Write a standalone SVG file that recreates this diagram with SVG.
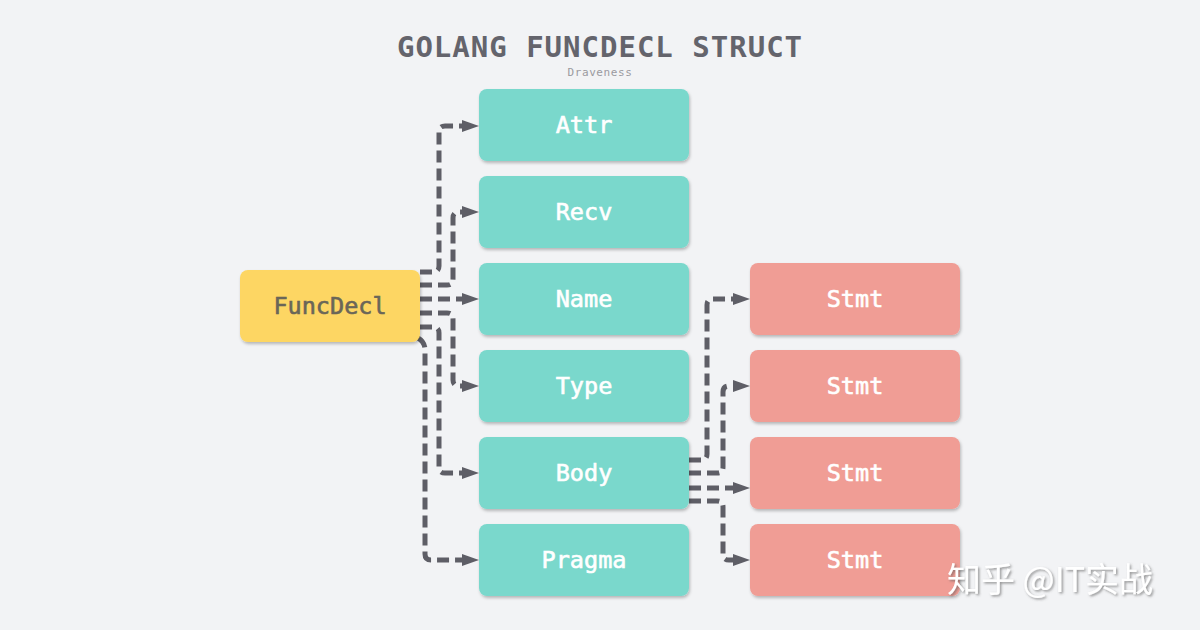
<svg xmlns="http://www.w3.org/2000/svg" width="1200" height="630" viewBox="0 0 1200 630">
<defs>
<filter id="sh" x="-10%" y="-10%" width="130%" height="140%">
<feDropShadow dx="1" dy="2" stdDeviation="1.5" flood-color="#000" flood-opacity="0.25"/>
</filter>
<filter id="wsh" x="-10%" y="-20%" width="130%" height="150%">
<feDropShadow dx="1.5" dy="1.5" stdDeviation="1" flood-color="#555" flood-opacity="0.6"/>
</filter>
<marker id="ah" markerWidth="17" markerHeight="12" refX="2" refY="6" orient="auto" markerUnits="userSpaceOnUse" viewBox="0 0 17 12">
<path d="M0,0 L17,6 L0,12 Z" fill="#5E5E66"/>
</marker>
</defs>
<style>
.t{fill:#7AD8CC;filter:url(#sh)}
.r{fill:#F09D95;filter:url(#sh)}
.y{fill:#FDD663;filter:url(#sh)}
.lbl{font-family:"DejaVu Sans Mono","Liberation Mono",monospace;font-size:23.5px;fill:#FFFFFF;stroke:#FFFFFF;stroke-width:0.6;text-anchor:middle}
.dk{fill:#6A6658;stroke:#6A6658}
.c{fill:none;stroke:#5E5E66;stroke-width:5;stroke-dasharray:12 6;marker-end:url(#ah)}
</style>
<rect width="1200" height="630" fill="#F2F3F5"/>
<text x="600" y="57" text-anchor="middle" font-family="DejaVu Sans Mono,Liberation Mono,monospace" font-size="29" font-weight="bold" fill="#64646C" letter-spacing="1">GOLANG FUNCDECL STRUCT</text>
<text x="600" y="76" text-anchor="middle" font-family="DejaVu Sans Mono,Liberation Mono,monospace" font-size="11" fill="#9A9AA0" letter-spacing="0.6">Draveness</text>
<g id="connectors">
<path class="c" d="M420,272 H433 Q439,272 439,266 V132 Q439,126 445,126 H464"/>
<path class="c" d="M420,285 H447 Q453,285 453,279 V218 Q453,212 459,212 H464"/>
<path class="c" d="M420,299 H464"/>
<path class="c" d="M420,313 H447 Q453,313 453,319 V380 Q453,386 459,386 H464"/>
<path class="c" d="M420,327 H433 Q439,327 439,333 V467 Q439,473 445,473 H464"/>
<path class="c" d="M418,338 Q425,342 425,350 V554 Q425,560 431,560 H464"/>
<path class="c" d="M689,460 H701 Q707,460 707,454 V305 Q707,299 713,299 H735"/>
<path class="c" d="M689,473 H717 Q723,473 723,467 V392 Q723,386 729,386 H735"/>
<path class="c" d="M689,488 H735"/>
<path class="c" d="M689,501 H717 Q723,501 723,507 V554 Q723,560 729,560 H735"/>
</g>
<g id="FuncDecl"><rect class="y" x="240" y="270" width="180" height="72" rx="8"/><text class="lbl dk" x="330" y="314">FuncDecl</text></g>
<g id="Attr"><rect class="t" x="479" y="89" width="210" height="72" rx="8"/><text class="lbl" x="584" y="133">Attr</text></g>
<g id="Recv"><rect class="t" x="479" y="176" width="210" height="72" rx="8"/><text class="lbl" x="584" y="220">Recv</text></g>
<g id="Name"><rect class="t" x="479" y="263" width="210" height="72" rx="8"/><text class="lbl" x="584" y="307">Name</text></g>
<g id="Type"><rect class="t" x="479" y="350" width="210" height="72" rx="8"/><text class="lbl" x="584" y="394">Type</text></g>
<g id="Body"><rect class="t" x="479" y="437" width="210" height="72" rx="8"/><text class="lbl" x="584" y="481">Body</text></g>
<g id="Pragma"><rect class="t" x="479" y="524" width="210" height="72" rx="8"/><text class="lbl" x="584" y="568">Pragma</text></g>
<g id="Stmt1"><rect class="r" x="750" y="263" width="210" height="72" rx="8"/><text class="lbl" x="855" y="307">Stmt</text></g>
<g id="Stmt2"><rect class="r" x="750" y="350" width="210" height="72" rx="8"/><text class="lbl" x="855" y="394">Stmt</text></g>
<g id="Stmt3"><rect class="r" x="750" y="437" width="210" height="72" rx="8"/><text class="lbl" x="855" y="481">Stmt</text></g>
<g id="Stmt4"><rect class="r" x="750" y="524" width="210" height="72" rx="8"/><text class="lbl" x="855" y="568">Stmt</text></g>
<text x="947" y="592" font-family="Noto Sans CJK SC,sans-serif" font-size="34" fill="#FFFFFF" filter="url(#wsh)">知乎 @IT实战</text>
</svg>
